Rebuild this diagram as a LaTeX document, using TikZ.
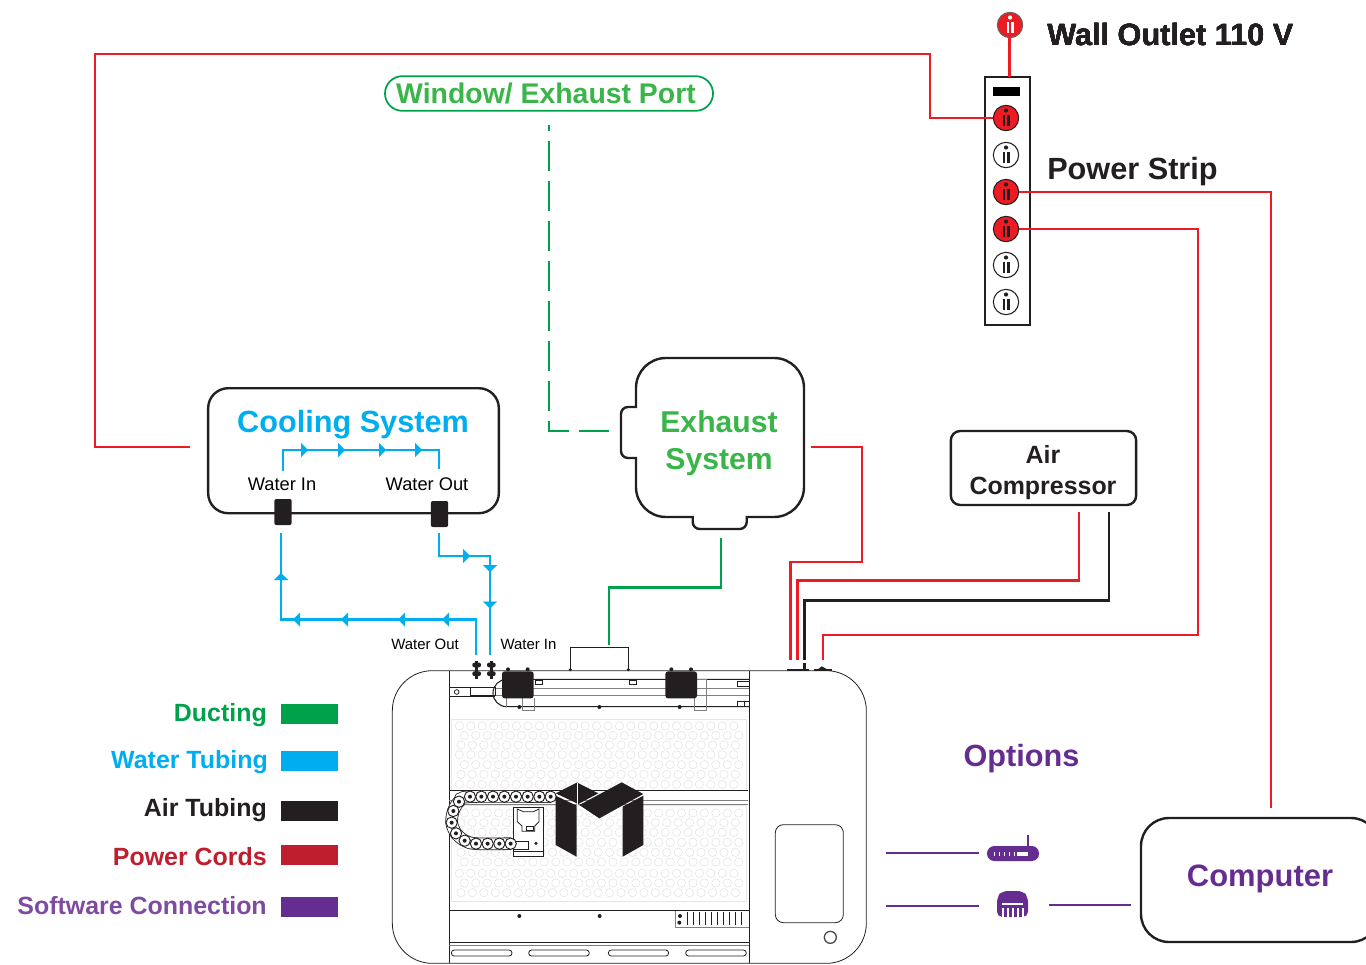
\documentclass[tikz,border=0pt]{standalone}
\usepackage{fontspec}
\setmainfont{Liberation Sans}
\usetikzlibrary{arrows.meta}

\definecolor{powerred}{HTML}{ED1C24}
\definecolor{legendred}{HTML}{BE1E2D}
\definecolor{inkblack}{HTML}{231F20}
\definecolor{ductgreen}{HTML}{00A14B}
\definecolor{exhaustgreen}{HTML}{39B54A}
\definecolor{waterblue}{HTML}{00AEEF}
\definecolor{softpurple}{HTML}{662D91}
\definecolor{bedgray}{HTML}{E6E6E6}

\newcommand{\socketmark}[3]{% x, y, colour
    \fill[#3] (#1,#2-7.5) circle (2.1);
    \fill[#3] (#1-3.5,#2-3.5) rectangle (#1-1.1,#2+8);
    \fill[#3] (#1+1.1,#2-3.5) rectangle (#1+3.5,#2+8);
}

\begin{document}
\begin{tikzpicture}[x=0.75pt,y=-0.75pt]

    \tikzstyle{box} = [rectangle, rounded corners=15pt, draw=inkblack, line width=1.8pt,
                       align=center, font=\bfseries\fontsize{23}{27.5}\selectfont]
    \tikzstyle{powerline} = [draw=powerred, line width=2.2pt]
    \tikzstyle{airline} = [draw=inkblack, line width=2.2pt]
    \tikzstyle{tube} = [draw=waterblue, line width=2.2pt]
    \tikzstyle{tubetip} = [draw=waterblue, line width=0.1pt, -{Triangle[length=5.25pt,width=10.5pt,fill=waterblue]}]
    \tikzstyle{softline} = [draw=softpurple, line width=1.6pt]
    \tikzstyle{heading} = [font=\bfseries\fontsize{23}{27.5}\selectfont, inner sep=0pt]
    \tikzstyle{legendtext} = [font=\bfseries\fontsize{18.7}{22}\selectfont, anchor=east, inner sep=0pt]
    \tikzstyle{swatch} = [rectangle, minimum width=42.75pt, minimum height=15pt, inner sep=0pt]
    \tikzstyle{socket} = [circle, minimum size=19pt, inner sep=0pt, draw=inkblack, line width=0.8pt]
    \tikzstyle{fitting} = [rectangle, rounded corners=1.5pt, fill=inkblack, minimum width=13pt, minimum height=19.5pt, inner sep=0pt]
    \tikzstyle{bedcell} = [draw=bedgray, line width=0.5pt]
    \tikzstyle{part} = [draw=inkblack, line width=0.6pt]

    \useasboundingbox (0,0) rectangle (1366,964);

    % Power strip and sockets
    \node[rectangle, draw=inkblack, line width=1pt, minimum width=33.75pt, minimum height=186pt, inner sep=0pt] (strip) at (1007.5,201) {};
    \fill[black] (993,87) rectangle (1020,95.5);
    \node[socket, fill=powerred, draw=inkblack!70] (outlet) at (1010,25) {};
    \socketmark{1010}{25}{white}
    \node[socket, fill=powerred] (socketa) at (1006,118) {};
    \node[socket, fill=white] (socketb) at (1006,155) {};
    \node[socket, fill=powerred] (socketc) at (1006,192) {};
    \node[socket, fill=powerred] (socketd) at (1006,229) {};
    \node[socket, fill=white] (sockete) at (1006,265) {};
    \node[socket, fill=white] (socketf) at (1006,302) {};
    \foreach \sy in {118,155,192,229,265,302}
        \socketmark{1006}{\sy}{inkblack}
    \node[heading, anchor=west, text=inkblack] (walllabel) at (1047,35) {Wall Outlet 110 V};
    \node[heading, anchor=west, text=inkblack] (striplabel) at (1047,172) {Power Strip};

    % Boxes
    \node[box, minimum width=218pt, minimum height=93.75pt, anchor=north] (cooling) at (353.5,387) {};
    \node[heading, text=waterblue] (coolinglabel) at (353,425) {Cooling System};
    \node[font=\fontsize{13.7}{16}\selectfont, inner sep=0pt] (waterinlabel) at (282,484) {Water In};
    \node[font=\fontsize{13.7}{16}\selectfont, inner sep=0pt] (wateroutlabel) at (427,484) {Water Out};
    \node[fitting] (fittingin) at (283,512) {};
    \node[fitting] (fittingout) at (439.5,514) {};

    \draw[draw=inkblack, line width=1.8pt]
        (666,358) -- (774,358) arc (-90:0:30) -- (804,487) arc (0:90:30)
        -- (746.7,517) -- (746.7,522) arc (0:90:7) -- (699.7,529) arc (90:180:7)
        -- (692.7,517) -- (666,517) arc (90:180:30) -- (636,458) -- (628,458) arc (90:180:7)
        -- (621,414) arc (180:270:7) -- (636,407) -- (636,388) arc (180:270:30) -- cycle;
    \node[align=center, text=exhaustgreen, font=\bfseries\fontsize{22.6}{27.6}\selectfont, inner sep=0pt] (exhaust) at (719,443) {Exhaust\\System};

    \node[box, rounded corners=7pt, minimum width=139pt, minimum height=55.5pt, inner sep=0pt] (compressor) at (1043.5,468) {};
    \node[align=center, inner sep=0pt, font=\bfseries\fontsize{18.7}{23.2}\selectfont, text=inkblack] (compressorlabel) at (1043,473) {Air\\Compressor};
    \node[box, rounded corners=21pt, minimum width=178.5pt, minimum height=93pt, text=softpurple] (computer) at (1260,880) {};
    \node[heading, text=softpurple, font=\bfseries\fontsize{23.2}{27.5}\selectfont] (computerlabel) at (1260,879) {Computer};
    \node[rectangle, rounded corners=13pt, draw=ductgreen, line width=1.3pt, minimum width=246pt, minimum height=26pt, inner sep=0pt] (window) at (549,93.5) {};
    \node[inner sep=0pt, text=exhaustgreen, font=\bfseries\fontsize{21.3}{25}\selectfont] (windowlabel) at (546,93.5) {Window/ Exhaust Port};
    \node[heading, text=softpurple] (options) at (1021.5,759) {Options};

    % Power lines
    \coordinate (outletdrop) at (1009.5,38);
    \coordinate (stripin) at (1009.5,77);
    \coordinate (coolingplug) at (190,447);
    \coordinate (exhaustplug) at (811,447);
    \coordinate (pcplug) at (1271,808);
    \coordinate (compplug) at (1079,512);
    \coordinate (compair) at (1109,512);
    \draw[powerline] (outletdrop) -- (stripin);
    \draw[powerline] (socketa) -- (930,118) -- (930,54) -- (95,54) -- (95,447) -- (coolingplug);
    \draw[powerline] (socketc) -- (1271,192) -- (pcplug);
    \draw[powerline] (socketd) -- (1198,229) -- (1198,635) -- (823,635) -- (823,660);
    \draw[powerline] (exhaustplug) -- (862,447) -- (862,562) -- (790.5,562) -- (790.5,660);
    \draw[powerline] (compplug) -- (1079,580.5) -- (797.5,580.5) -- (797.5,660);
    \draw[airline] (compair) -- (1109,600.5) -- (804.5,600.5) -- (804.5,660);

    % Ducting
    \coordinate (windowduct) at (549,125);
    \coordinate (exhaustduct) at (609,431);
    \coordinate (machineduct) at (609,645);
    \draw[draw=ductgreen, line width=1.8pt, dash pattern=on 22.5pt off 7.5pt, dash phase=18pt] (windowduct) -- (549,431) -- (exhaustduct);
    \draw[draw=ductgreen, line width=2pt] (721,538) -- (721,587.5) -- (609,587.5) -- (machineduct);

    % Water tubing
    \coordinate (loopin) at (283,471);
    \coordinate (loopout) at (439,469);
    \coordinate (returnin) at (281,533);
    \coordinate (returnout) at (439,533);
    \coordinate (machineout) at (476,655);
    \coordinate (machinein) at (490,655);
    \draw[tube] (loopin) -- (283,450) -- (439,450) -- (loopout);
    \draw[tube] (returnin) -- (281,619.5) -- (476,619.5) -- (machineout);
    \draw[tube] (returnout) -- (439,556) -- (490,556) -- (machinein);
    \foreach \ax in {308,345,386,422}
        \draw[tubetip] (\ax-1,450) -- (\ax,450);
    \draw[tubetip] (469,556) -- (470,556);
    \draw[tubetip] (281,574) -- (281,573);
    \foreach \ax in {293,341,398,442}
        \draw[tubetip] (\ax+1,619.5) -- (\ax,619.5);
    \foreach \ay in {572,608.5}
        \draw[tubetip] (490,\ay-1) -- (490,\ay);
    \node[font=\fontsize{11.2}{13}\selectfont, inner sep=0pt] (machineoutlabel) at (425,644) {Water Out};
    \node[font=\fontsize{11.2}{13}\selectfont, inner sep=0pt] (machineinlabel) at (528.5,644) {Water In};

    % Software connection
    \coordinate (routerin) at (979,853);
    \coordinate (portin) at (979,906);
    \coordinate (portout) at (1049,905);
    \coordinate (pcin) at (1131,905);
    \draw[softline] (886,853) -- (routerin);
    \draw[softline] (886,906) -- (portin);
    \draw[softline] (portout) -- (pcin);
    \fill[softpurple, rounded corners=5.5pt] (987,846) rectangle (1039,861);
    \draw[softpurple, line width=1.5pt] (1028,846) -- (1028,835);
    \foreach \rx in {994,999,1004,1009,1014}
        \fill[white] (\rx,851.5) rectangle (\rx+1.4,856);
    \fill[white] (1017,851.5) rectangle (1028,856);
    \fill[softpurple, rounded corners=4pt] (997,897) -- (1002,891) -- (1023,891) -- (1028,897) -- (1028,917) -- (997,917) -- cycle;
    \fill[white] (1002,903) rectangle (1023,905);
    \foreach \px in {1002,1007,1012,1017,1022}
        \fill[white] (\px,908) rectangle (\px+1.6,917.5);

    % Legend
    \node[swatch, fill=ductgreen] (ductswatch) at (309.5,714) {};
    \node[swatch, fill=waterblue] (waterswatch) at (309.5,761) {};
    \node[swatch, fill=inkblack] (airswatch) at (309.5,811) {};
    \node[swatch, fill=legendred] (powerswatch) at (309.5,855) {};
    \node[swatch, fill=softpurple] (softswatch) at (309.5,907) {};
    \node[legendtext, text=ductgreen] (ductlabel) at (267,715) {Ducting};
    \node[legendtext, text=waterblue] (waterlabel) at (268,762) {Water Tubing};
    \node[legendtext, text=inkblack] (airlabel) at (267,810) {Air Tubing};
    \node[legendtext, text=legendred] (powerlabel) at (267,857) {Power Cords};
    \node[legendtext, text=softpurple!85!white] (softlabel) at (267,906) {Software Connection};

    % Machine, in coordinates three times finer
    \begin{scope}[shift={(380,630)}, x=0.25pt, y=-0.25pt]
        \draw[part] (37,1000) [rounded corners=30pt] -- (37,122) -- (1459,122) -- (1459,1000) -- cycle;
        % beds
        \draw[draw=bedgray, line width=0.5pt] (213,267) rectangle (1100,480);
        \draw[draw=bedgray, line width=0.5pt] (213,525) rectangle (1100,815);
        \foreach \bx in {0,...,24} {
            \foreach \by/\bs in {288/0,316/15,345/5,374/0,404/15,433/5,463/0,
                                 549/15,578/5,607/0,637/15,667/5,696/15,730/0,759/15,788/5}
                \draw[bedcell] (238+\bs+34.3*\bx,\by) circle (12.5);
        }
        \draw[part] (208,122) -- (208,1000);
        \draw[part] (1108,122) -- (1108,1000);
        \draw[part] (208,481) -- (1105,481);
        \draw[draw=gray, line width=0.5pt] (208,512) -- (1105,512);
        \draw[draw=gray, line width=0.5pt] (208,522) -- (1105,522);
        % top gantry
        \draw[part] (571,122) -- (571,52) -- (745,52) -- (745,122);
        \fill[inkblack] (571,119) circle (5);
        \fill[inkblack] (745,119) circle (5);
        \draw[part, line width=0.8pt] (1108,148) -- (380,148) arc (270:90:41) -- (1108,230);
        \draw[draw=gray, line width=0.5pt] (345,175) -- (1108,175);
        \draw[draw=gray, line width=0.5pt] (345,195) -- (1108,195);
        \draw[part] (208,172) -- (345,172);
        \draw[part] (208,198) -- (345,198);
        \draw[part] (272,172) rectangle (345,195);
        \draw[part] (230,186) circle (7);
        \draw[part] (465,150) rectangle (486,162);
        \draw[part] (749,150) rectangle (769,162);
        \draw[part] (1072,155) rectangle (1108,170);
        \draw[part] (1072,213) rectangle (1108,228);
        \draw[part] (1092,213) -- (1092,228);
        \draw[draw=gray, line width=0.5pt] (426,205) -- (426,240) -- (462,240) -- (462,205);
        \draw[draw=gray, line width=0.5pt] (951,148) -- (979,148) -- (979,240) -- (943,240) -- (943,205);
        \draw[draw=gray, line width=0.5pt] (380,205) -- (380,230);
        \foreach \gx in {418,658,899} \fill[inkblack] (\gx,231) circle (6);
        \foreach \gx in {366,856} {
            \fill[inkblack, rounded corners=2pt] (\gx,124) rectangle (\gx+95,205);
            \fill[inkblack] (\gx+18,118) circle (6);
            \fill[inkblack] (\gx+77,118) circle (6);
        }
        % barbed fittings
        \foreach \fx in {290,334} {
            \fill[inkblack] (\fx-5,92) rectangle (\fx+5,147);
            \fill[inkblack, rounded corners=1.5pt] (\fx-13,98) rectangle (\fx+13,112);
            \fill[inkblack, rounded corners=1.5pt] (\fx-13,124) rectangle (\fx+13,138);
        }
        % plugs at the back
        \fill[inkblack] (1222,116) rectangle (1288,122);
        \fill[inkblack] (1269,98) rectangle (1279,122);
        \fill[inkblack] (1303,117) rectangle (1355,122);
        \fill[inkblack] (1315,117) -- (1325,109) -- (1340,117) -- cycle;
        % bottom rail
        \draw[part] (208,841) -- (1108,841);
        \draw[part] (208,937) -- (1108,937);
        \draw[draw=gray, line width=0.5pt] (208,946) -- (1108,946);
        \foreach \sx/\sw in {214/182,446/182,685/181,917/182}
            \draw[part, rounded corners=2.2pt] (\sx,960) rectangle (\sx+\sw,978);
        \fill[inkblack] (418,858) circle (6);
        \fill[inkblack] (659,858) circle (6);
        \draw[draw=gray, line width=0.5pt] (887,843) -- (887,892) -- (1108,892);
        \fill[inkblack] (900,858) circle (6);
        \fill[inkblack] (898,878) circle (6);
        \foreach \vx in {921,939,...,1100}
            \draw[part] (\vx,847) -- (\vx,885);
        % side panel
        \draw[part, rounded corners=6pt] (1186,584) rectangle (1390,878);
        \draw[draw=inkblack!80, line width=1pt] (1351,922) circle (18);
        % laser head
        \draw[part, fill=white] (400,533) rectangle (489,678);
        \draw[part] (400,665) -- (489,665);
        \draw[part] (412,537) -- (412,575) -- (426,588) -- (426,604) -- (464,604) -- (464,588) -- (477,575) -- (477,537) -- (460,545) -- (430,545) -- cycle;
        \draw[part] (440,590) rectangle (460,600);
        \fill[inkblack] (468,640) circle (5);
        \draw[part, fill=white] (400,635) rectangle (445,658);
        % drag chain
        \draw[draw=inkblack, line width=9.4pt] plot[smooth] coordinates {(512,500) (270,500) (237,515) (220,543) (215,578) (228,610) (254,632) (288,641) (392,641)};
        \draw[draw=white, line width=8.2pt] plot[smooth] coordinates {(512,500) (270,500) (237,515) (220,543) (215,578) (228,610) (254,632) (288,641) (392,641)};
        \foreach \cx/\cy in {512/500,478/500,443/500,408/500,373/500,339/500,304/500,270/500,
                             237/515,220/543,215/578,228/610,254/632,288/641,323/641,358/641,392/641} {
            \draw[part, fill=white, line width=0.7pt] (\cx,\cy) circle (17);
            \fill[inkblack] (\cx,\cy) circle (6);
        }
        % logo
        \fill[inkblack] (527,497) -- (590,527) -- (590,680) -- (527,645) -- cycle;
        \fill[inkblack] (527,490) -- (590,458) -- (592,458) -- (655,490) -- (595,522) -- cycle;
        \fill[inkblack] (598,525) -- (725,457) -- (790,492) -- (658,565) -- cycle;
        \fill[inkblack] (728,530) -- (790,497) -- (790,645) -- (728,680) -- cycle;
        \draw[white, line width=0.4pt] (592,458) -- (592,525);
    \end{scope}

\end{tikzpicture}
\end{document}
